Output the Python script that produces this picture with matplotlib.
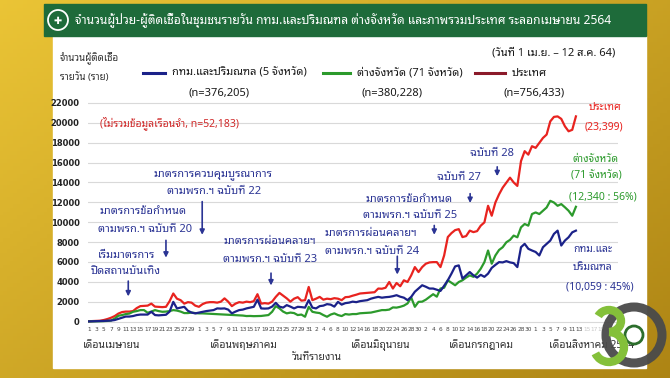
import numpy as np
import pandas as pd
import matplotlib
matplotlib.use('Agg')
import matplotlib.pyplot as plt
from matplotlib import font_manager
from matplotlib.ft2font import FT2Font
from matplotlib.patches import Rectangle, Circle, Arc

# daily community cases, 1 Apr - 12 Aug 2021
bkk = [10, 20, 30, 40, 60, 80, 100, 150, 270, 400,
       500, 500, 550, 650, 700, 700, 700, 980, 650, 620,
       650, 680, 1000, 1980, 1320, 1400, 1480, 1080, 900, 820,
       900, 980, 1050, 1100, 1150, 1320, 1300, 1320, 1200, 820,
       1000, 1150, 1200, 1320, 1400, 1480, 2200, 1320, 1300, 1320,
       1500, 1880, 1500, 1400, 1650, 1500, 1320, 1480, 1450, 1400,
       2150, 1400, 1320, 1550, 1600, 1750, 1700, 1500, 1980, 1700,
       1850, 1900, 2000, 1950, 2050, 2100, 2150, 2300, 2400, 2480,
       2400, 2450, 2480, 2550, 2650, 2500, 2400, 2150, 2480, 3000,
       3320, 3650, 3500, 3320, 3320, 3200, 3080, 3600, 4150, 4820,
       5550, 5650, 4320, 4650, 4980, 4650, 4420, 4700, 4500, 4820,
       5400, 5700, 5980, 5950, 6080, 5950, 5880, 5480, 7480, 7820,
       7320, 7150, 7000, 6650, 7480, 7820, 8150, 8820, 9150, 7650,
       8150, 8480, 8980, 9150]
prov = [10, 15, 20, 30, 40, 60, 100, 300, 580, 650,
        750, 800, 980, 1050, 1150, 1150, 880, 1000, 1150, 1050,
        980, 1000, 1050, 1150, 1100, 1000, 850, 850, 900, 850,
        820, 820, 800, 780, 750, 750, 720, 700, 680, 650,
        650, 620, 600, 550, 560, 540, 550, 560, 600, 650,
        980, 1550, 1320, 1000, 820, 900, 850, 650, 700, 480,
        1480, 980, 900, 850, 650, 480, 700, 820, 650, 550,
        750, 700, 750, 750, 830, 850, 880, 900, 980, 1050,
        1150, 1150, 1200, 1420, 1400, 1480, 1600, 1820, 2420, 1480,
        1980, 2000, 2200, 2480, 2750, 2500, 3320, 3400, 4150, 3900,
        3650, 3980, 4150, 4420, 4650, 4500, 4820, 5320, 5980, 7150,
        5820, 6650, 7200, 7480, 7980, 8220, 8650, 8480, 9480, 9820,
        9650, 10820, 10980, 10820, 11150, 11480, 12150, 11980, 11650, 11820,
        11500, 11150, 10650, 11550]
country = [30, 50, 60, 80, 150, 250, 380, 550, 800, 950,
           1000, 1000, 1050, 1350, 1550, 1580, 1600, 1800, 1500, 1480,
           1450, 1480, 2050, 2820, 2300, 2150, 1800, 1950, 1900, 1600,
           1480, 1750, 1900, 1950, 1950, 1900, 2000, 2330, 2000, 1550,
           1800, 1950, 1900, 2000, 1950, 2050, 2750, 1800, 1850, 1800,
           2000, 2480, 2880, 2600, 2330, 2000, 2300, 2450, 2100, 2150,
           3480, 2150, 2300, 2480, 2200, 2300, 2250, 2350, 2300, 2150,
           2450, 2480, 2600, 2700, 2820, 2850, 2880, 2900, 2950, 3320,
           3300, 3400, 3980, 3320, 3880, 3550, 4150, 3980, 4650, 5480,
           4980, 5480, 5820, 5950, 5980, 5980, 5480, 6650, 8500, 8900,
           9200, 9300, 8500, 8600, 9150, 9000, 9100, 9650, 9980, 11650,
           10650, 11980, 12800, 13480, 13980, 14480, 14000, 13650, 16150, 17150,
           16800, 17650, 17480, 17980, 18480, 18820, 20150, 20600, 20650, 20400,
           19650, 19150, 19300, 20650]

dates = pd.date_range('2021-04-01', '2021-08-12')
axis_days = pd.date_range('2021-04-01', periods=147)
months = ['เดือนเมษายน', 'เดือนพฤษภาคม', 'เดือนมิถุนายน', 'เดือนกรกฎาคม', 'เดือนสิงหาคม 2564']


def thai_family():
    names = []
    for f in font_manager.fontManager.ttflist:
        try:
            if 0x0E01 in FT2Font(f.fname).get_charmap():
                names.append(f.name)
        except Exception:
            pass
    for pref in ['Tahoma', 'Noto Sans Thai', 'Loma', 'Garuda', 'Sarabun']:
        for n in names:
            if pref.lower() in n.lower():
                return n
    return names[0] if names else 'DejaVu Sans'


plt.rcParams['font.family'] = [thai_family(), 'DejaVu Sans']

RED = '#E8231F'
BLUE = '#1B2289'
GREEN = '#2C9A2C'
NAVY = '#2B3494'

fig = plt.figure(figsize=(6.7, 3.78), dpi=100)

# background: gold slide + white panel + green header (pixel coords)
bg = fig.add_axes([0, 0, 1, 1], zorder=0)
bg.set_xlim(0, 670)
bg.set_ylim(378, 0)
bg.axis('off')
gx = np.linspace(0, 1, 200)
gy = np.linspace(0, 1, 100)
GX, GY = np.meshgrid(gx, gy)
c1 = np.array([0.92, 0.77, 0.21])
c2 = np.array([0.68, 0.52, 0.08])
t = np.clip(0.55 * GX + 0.45 * GY, 0, 1)[..., None]
bg.imshow(c1 * (1 - t) + c2 * t, extent=[0, 670, 378, 0], aspect='auto')
bg.add_patch(Rectangle((53, 36), 593, 332, color='white', zorder=1))
bg.add_patch(Rectangle((44, 4), 602, 32, color='#1E6B3A', zorder=2))
bg.add_patch(Circle((58, 20), 10, facecolor='#1E6B3A', edgecolor='white', lw=1.3, zorder=3))
bg.text(58, 20.5, '✚', color='white', fontsize=7, ha='center', va='center', zorder=4,
        family='DejaVu Sans')
bg.text(75, 20, 'จำนวนผู้ป่วย-ผู้ติดเชื้อในชุมชนรายวัน กทม.และปริมณฑล ต่างจังหวัด และภาพรวมประเทศ ระลอกเมษายน 2564',
        color='white', fontsize=8.7, va='center', zorder=4)

# main chart
ax = fig.add_axes([88 / 670, (378 - 324.5) / 378, 530 / 670, 224.5 / 378], zorder=1)
ax.set_facecolor('none')
x = np.arange(len(dates))
ax.plot(x, country, color=RED, lw=1.6, zorder=3)
ax.plot(x, prov, color=GREEN, lw=1.6, zorder=3)
ax.plot(x, bkk, color=BLUE, lw=1.6, zorder=4)
ax.set_xlim(-0.3, 144.5)
ax.set_ylim(-300, 22300)
ax.set_yticks(range(0, 22001, 2000))
ax.set_yticklabels([str(v) for v in range(0, 22001, 2000)], fontsize=6, fontweight='bold',
                   color='#222222', family='DejaVu Sans')
ticks = list(range(0, 145, 2))
ax.set_xticks(ticks)
ax.set_xticklabels([str(axis_days[i].day) for i in ticks], fontsize=4.2, color='#444444',
                   family='DejaVu Sans')
for lab, i in zip(ax.get_xticklabels(), ticks):
    if i > 134:
        lab.set_color('#C8C8C8')
ax.tick_params(length=0, pad=2)
ax.tick_params(axis='y', pad=6)
ax.grid(axis='y', color='#D9D9D9', lw=0.8)
ax.set_axisbelow(True)
for s in ax.spines.values():
    s.set_visible(False)

# arrows of the measures: (day index, arrow tail, arrow tip)
arrows = [(10.7, 4350, 2250), (21, 8450, 6150), (30.9, 12350, 8450), (49.7, 5150, 3350),
          (84.2, 6850, 4450), (94.3, 9950, 8450), (104.1, 13150, 11650), (111.5, 15850, 14350)]
for ix, y0, y1 in arrows:
    ax.annotate('', xy=(ix, y1), xytext=(ix, y0),
                arrowprops=dict(arrowstyle='-|>', color=NAVY, lw=1.2, mutation_scale=7))

# text overlay (pixel coords)
ov = fig.add_axes([0, 0, 1, 1], zorder=2)
ov.set_xlim(0, 670)
ov.set_ylim(378, 0)
ov.axis('off')
ov.set_facecolor('none')

ov.text(615, 53, '(วันที่ 1 เม.ย. – 12 ส.ค. 64)', fontsize=8, color='#1a1a1a', ha='right', va='center')
ov.text(60, 59, 'จำนวนผู้ติดเชื้อ', fontsize=7, color='#333333', va='center')
ov.text(60, 77, 'รายวัน (ราย)', fontsize=7, color='#333333', va='center')

ov.plot([143, 165], [73, 73], color=BLUE, lw=2.2)
ov.text(172, 73, 'กทม.และปริมณฑล (5 จังหวัด)', fontsize=8, color='#1a1a1a', va='center')
ov.text(219, 93, '(n=376,205)', fontsize=8, color='#1a1a1a', ha='center', va='center')
ov.plot([323, 350], [73, 73], color=GREEN, lw=2.2)
ov.text(357, 73, 'ต่างจังหวัด (71 จังหวัด)', fontsize=8, color='#1a1a1a', va='center')
ov.text(392, 93, '(n=380,228)', fontsize=8, color='#1a1a1a', ha='center', va='center')
ov.plot([475, 505], [73, 73], color='#8B1A2A', lw=2.2)
ov.text(512, 73, 'ประเทศ', fontsize=8, color='#1a1a1a', va='center')
ov.text(534, 93, '(n=756,433)', fontsize=8, color='#1a1a1a', ha='center', va='center')

ov.text(100, 123, '(ไม่รวมข้อมูลเรือนจำ, n=52,183)', fontsize=7.5, color='#D02A2A', va='center')

ov.text(605, 108, 'ประเทศ', fontsize=7.5, color=RED, ha='center', va='center')
ov.text(604, 127, '(23,399)', fontsize=7.5, color=RED, ha='center', va='center')
ov.text(596, 160, 'ต่างจังหวัด', fontsize=7.5, color=GREEN, ha='center', va='center')
ov.text(596, 176, '(71 จังหวัด)', fontsize=7.5, color=GREEN, ha='center', va='center')
ov.text(603, 197, '(12,340 : 56%)', fontsize=7.5, color=GREEN, ha='center', va='center')
ov.text(593, 250, 'กทม.และ', fontsize=7.5, color=NAVY, ha='center', va='center')
ov.text(593, 267, 'ปริมณฑล', fontsize=7.5, color=NAVY, ha='center', va='center')
ov.text(600, 287, '(10,059 : 45%)', fontsize=7.5, color=NAVY, ha='center', va='center')

notes = [(213, 174, 'มาตรการควบคุมบูรณาการ'), (214, 192, 'ตามพรก.ฯ ฉบับที่ 22'),
         (143, 212, 'มาตรการข้อกำหนด'), (145, 230, 'ตามพรก.ฯ ฉบับที่ 20'),
         (127, 255, 'เริ่มมาตรการ'), (126, 272, 'ปิดสถานบันเทิง'),
         (270, 242, 'มาตรการผ่อนคลายฯ'), (270, 260, 'ตามพรก.ฯ ฉบับที่ 23'),
         (371, 234, 'มาตรการผ่อนคลายฯ'), (372, 251, 'ตามพรก.ฯ ฉบับที่ 24'),
         (409, 199, 'มาตรการข้อกำหนด'), (410, 215, 'ตามพรก.ฯ ฉบับที่ 25'),
         (459, 177, 'ฉบับที่ 27'), (492, 153, 'ฉบับที่ 28')]
for px, py, s in notes:
    ov.text(px, py, s, fontsize=8, color=NAVY, ha='center', va='center')

month_x = [112, 244, 381, 481, 592]
for mx, s in zip(month_x, months):
    ov.text(mx, 345, s, fontsize=7.5, color='#333333', ha='center', va='center', zorder=2)
ov.text(317, 357, 'วันที่รายงาน', fontsize=7.5, color='#333333', ha='center', va='center')

# watermark logo, bottom right: grey ring with a green "3" drawn as arcs
# (y axis is inverted here, so angles are mirrored)
ov.add_patch(Circle((634, 335), 28, fill=False, edgecolor='#4A4A4A', lw=6.5, alpha=0.95, zorder=5))
ov.add_patch(Circle((634, 335), 9, facecolor='white', edgecolor='#2C6E2C', lw=2, zorder=5))
ov.add_patch(Arc((609, 321), 24, 22, theta1=-155, theta2=90, color='#84C03A', lw=6, zorder=6))
ov.add_patch(Arc((609, 347), 30, 30, theta1=-90, theta2=155, color='#84C03A', lw=6, zorder=6))

fig.savefig('out.png', dpi=100)
